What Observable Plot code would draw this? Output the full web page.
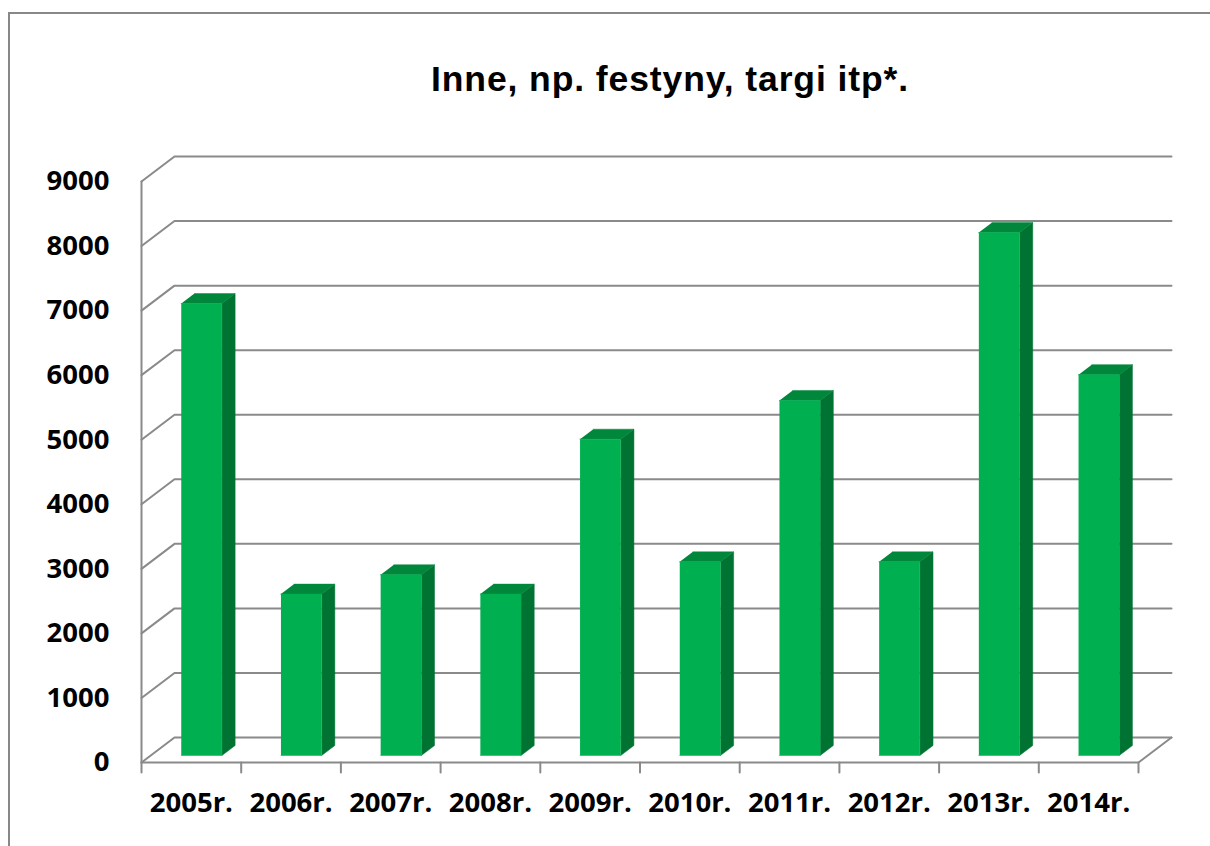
<!DOCTYPE html>
<html><head><meta charset="utf-8">
<script src="https://cdn.jsdelivr.net/npm/d3@7"></script>
<script src="https://cdn.jsdelivr.net/npm/@observablehq/plot@0.6"></script>
<style>
html,body{margin:0;padding:0;background:#fff;}
#wrap{position:relative;width:1210px;height:846px;overflow:hidden;background:#fff;}
#frame{position:absolute;left:8px;top:12px;width:1400px;height:1000px;border:2px solid #888;box-sizing:border-box;}
#title{position:absolute;left:0;top:62px;width:1340px;text-align:center;font-family:"Liberation Sans",Arial,sans-serif;font-weight:bold;font-size:35.5px;line-height:35.5px;letter-spacing:0.9px;color:#000;}
#chart{position:absolute;left:0;top:0;}
</style></head><body>
<div id="wrap"><div id="frame"></div><div id="title">Inne, np. festyny, targi itp*.</div><div id="chart"></div></div>
<script>
// ---- data ----
const years = ["2005r.", "2006r.", "2007r.", "2008r.", "2009r.", "2010r.", "2011r.", "2012r.", "2013r.", "2014r."];
const values = [7000, 2500, 2800, 2500, 4900, 3000, 5500, 3000, 8100, 5900];
const yTicks = [0, 1000, 2000, 3000, 4000, 5000, 6000, 7000, 8000, 9000];

// ---- 3D geometry (in data units of the front plane) ----
const depthX = 0.331;   // full depth shift in x (slot units)
const depthY = 387;     // full depth shift in y (value units)
const d0 = 0.28, d1 = 0.68; // bar front / back depth
const off = 0.51, half = 0.204; // bar centre & half width within a slot
const tickLen = 155;    // x tick length in value units
const n = years.length;

const P = (x, y, d, k) => ({k, x: x + d * depthX, y: y + d * depthY});

const grid = [];
yTicks.forEach(v => {
  grid.push(P(0, v, 0, "g" + v), P(0, v, 1, "g" + v), P(n, v, 1, "g" + v));
});
grid.push(P(0, 0, 0, "floor"), P(n, 0, 0, "floor"), P(n, 0, 1, "floor"));
grid.push(P(0, 0, 0, "axis"), P(0, yTicks[yTicks.length - 1], 0, "axis"));
for (let i = 0; i <= n; i++) {
  grid.push({k: "t" + i, x: i, y: 0}, {k: "t" + i, x: i, y: -tickLen});
}

const faceFront = [], faceSide = [], faceTop = [];
values.forEach((v, i) => {
  const a = i + off - half, b = i + off + half;
  faceFront.push(P(a, 0, d0, i), P(b, 0, d0, i), P(b, v, d0, i), P(a, v, d0, i));
  faceSide.push(P(b, 0, d0, i), P(b, 0, d1, i), P(b, v, d1, i), P(b, v, d0, i));
  faceTop.push(P(a, v, d0, i), P(b, v, d0, i), P(b, v, d1, i), P(a, v, d1, i));
});

const font = {fontFamily: "Open Sans", fontSize: 27.5, fontWeight: "bold", fill: "#000"};

const chart = Plot.plot({
  width: 1210,
  height: 846,
  marginLeft: 141,
  marginRight: 72,
  marginTop: 181,
  marginBottom: 84,
  style: {background: "transparent", overflow: "visible"},
  x: {domain: [0, n], axis: null},
  y: {domain: [0, 9000], axis: null},
  marks: [
    Plot.line(grid, {x: "x", y: "y", z: "k", stroke: "#8a8a8a", strokeWidth: 2}),
    Plot.line(faceSide, {x: "x", y: "y", z: "k", fill: "#007332", stroke: "#007332", strokeWidth: 0.5}),
    Plot.line(faceTop, {x: "x", y: "y", z: "k", fill: "#00873c", stroke: "#00873c", strokeWidth: 0.5}),
    Plot.line(faceFront, {x: "x", y: "y", z: "k", fill: "#00b050", stroke: "#00b050", strokeWidth: 0.5}),
    Plot.text(yTicks, {x: 0, y: d => d, text: d => String(d), dx: -32, textAnchor: "end", ...font}),
    Plot.text(years, {x: (d, i) => i + 0.5, y: 0, text: d => d, dy: 41, ...font})
  ]
});
document.getElementById("chart").appendChild(chart);
</script>
</body></html>
